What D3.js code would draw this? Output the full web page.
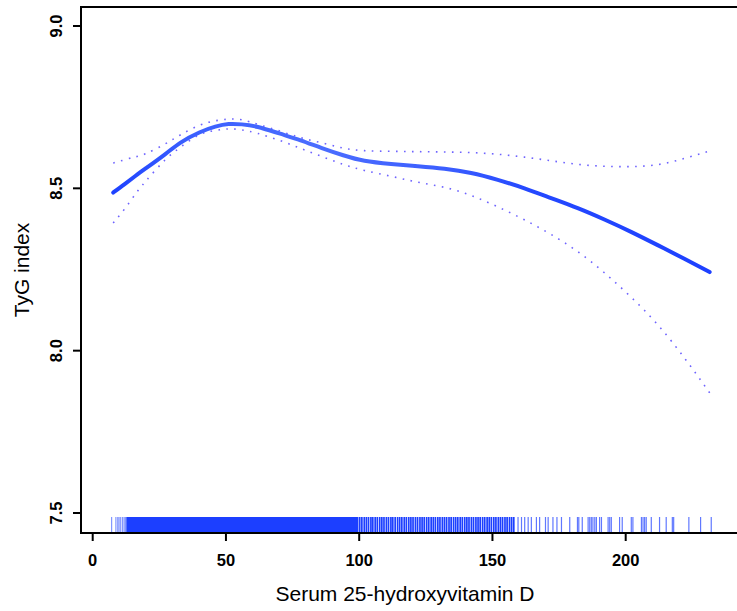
<!DOCTYPE html>
<html>
<head>
<meta charset="utf-8">
<script src="https://cdn.jsdelivr.net/npm/d3@7"></script>
<style>
  body { margin: 0; background: #fff; }
  svg { display: block; font-family: "Liberation Sans", Arial, sans-serif; }
</style>
</head>
<body>
<svg id="chart" width="737" height="611"></svg>
<script>
// ===================================
// Data
// ===================================

// vitamin D grid where the spline was evaluated
const vitD = [7.7, 12, 16, 20, 27, 33, 40, 46, 51, 56, 62, 70, 78, 86, 94, 102, 112, 122, 132, 142, 152, 162, 172, 182, 192, 202, 212, 222, 231.5];
// fitted TyG index
const fitTyG = [8.487, 8.513, 8.538, 8.562, 8.604, 8.641, 8.672, 8.690, 8.698, 8.697, 8.689, 8.669, 8.648, 8.624, 8.602, 8.585, 8.575, 8.568, 8.560, 8.547, 8.526, 8.500, 8.470, 8.439, 8.404, 8.366, 8.325, 8.283, 8.242];
// 95% confidence band
const upperTyG = [8.578, 8.588, 8.597, 8.607, 8.636, 8.665, 8.694, 8.708, 8.713, 8.711, 8.697, 8.677, 8.656, 8.640, 8.624, 8.616, 8.614, 8.613, 8.612, 8.610, 8.605, 8.596, 8.585, 8.574, 8.568, 8.567, 8.573, 8.592, 8.615];
const lowerTyG = [8.393, 8.437, 8.482, 8.523, 8.586, 8.627, 8.665, 8.678, 8.683, 8.680, 8.669, 8.648, 8.623, 8.598, 8.574, 8.555, 8.537, 8.519, 8.503, 8.478, 8.443, 8.403, 8.358, 8.305, 8.240, 8.165, 8.080, 7.978, 7.870];

// rug of observed values: the bulk is a solid band, the rest individual ticks
const rugDenseSpan = [12.6, 99.7];
const rugLow = [7.1, 8.7, 9.4, 9.9, 10.5, 11.2, 11.8, 12.3];
const rugMid = [100.2, 101.0, 101.9, 102.7, 103.5, 104.4, 105.1, 106.0, 106.8, 107.7, 108.5, 109.3, 110.2, 111.0, 111.9, 112.6, 113.5, 114.4, 115.2, 116.0, 116.9, 117.7, 118.6, 119.4, 120.2, 121.1, 121.9, 122.8, 123.6, 124.4, 125.3, 126.1, 127.0, 127.8, 128.6, 129.5, 130.3, 131.2, 132.0, 132.8, 133.7, 134.5, 135.4, 136.2, 137.0, 137.9, 138.7, 139.6, 140.4, 141.2, 142.1, 142.9, 143.8, 144.6, 145.4, 146.3, 147.1, 148.0, 148.8, 149.6, 150.5, 151.3, 152.2, 153.0, 153.8, 154.7, 155.5, 156.4, 157.2, 158.0];
const rugHigh = [159.6, 160.9, 162.1, 163.4, 164.6, 166.5, 167.7, 169.9, 170.9, 172.7, 174.2, 175.9, 179.0, 181.9, 182.4, 183.7, 185.9, 186.5, 187.1, 187.7, 188.4, 189.0, 190.2, 190.9, 193.4, 194.0, 194.6, 197.7, 198.7, 202.1, 202.7, 205.9, 206.5, 207.1, 207.7, 209.6, 212.7, 215.2, 217.5, 218.0, 223.7, 228.1, 232.1];

const xTicks = [0, 50, 100, 150, 200];
const yTicks = [7.5, 8.0, 8.5, 9.0];

// ===================================
// Layout
// ===================================

const box = { left: 81, right: 737, top: 7, bottom: 533 };
const x = d3.scaleLinear().domain([0, 200]).range([92.7, 625.7]);
const y = d3.scaleLinear().domain([7.5, 9.0]).range([513, 26]);
const rugTop = 517;

const svg = d3.select('#chart');

// gradient so the fitted line is paler in the middle like the original
const grad = svg.append('defs').append('linearGradient')
    .attr('id', 'fitGrad')
    .attr('gradientUnits', 'userSpaceOnUse')
    .attr('x1', x(vitD[0])).attr('x2', x(vitD[vitD.length - 1]))
    .attr('y1', 0).attr('y2', 0);
[[0, '#1e42ff'], [0.12, '#3a5fff'], [0.35, '#4b6dff'], [0.55, '#3c5fff'], [0.7, '#2448ff'], [1, '#1d40ff']]
    .forEach(([o, c]) => grad.append('stop').attr('offset', o).attr('stop-color', c));

// ===================================
// Rug
// ===================================

svg.append('rect')
    .attr('x', x(rugDenseSpan[0]))
    .attr('y', rugTop)
    .attr('width', x(rugDenseSpan[1]) - x(rugDenseSpan[0]))
    .attr('height', box.bottom - rugTop)
    .attr('fill', '#1c3fff');

const rugTicks = rugLow.map(v => ({ v, o: 0.55, w: 1.2 }))
    .concat(rugMid.map(v => ({ v, o: 1, w: 1.7 })))
    .concat(rugHigh.map(v => ({ v, o: 0.7, w: 1.2 })));

svg.append('g').selectAll('line')
    .data(rugTicks)
    .join('line')
    .attr('x1', d => x(d.v)).attr('x2', d => x(d.v))
    .attr('y1', rugTop).attr('y2', box.bottom)
    .attr('stroke', '#1c3fff')
    .attr('stroke-opacity', d => d.o)
    .attr('stroke-width', d => d.w);

// ===================================
// Curves
// ===================================

const line = vals => d3.line()
    .x((d, i) => x(vitD[i]))
    .y(d => y(d))
    .curve(d3.curveNatural)(vals);

[upperTyG, lowerTyG].forEach(band => {
    svg.append('path')
        .attr('d', line(band))
        .attr('fill', 'none')
        .attr('stroke', '#4a3cff')
        .attr('stroke-opacity', 0.8)
        .attr('stroke-width', 1.6)
        .attr('stroke-dasharray', '1.6,6.4');
});

svg.append('path')
    .attr('d', line(fitTyG))
    .attr('fill', 'none')
    .attr('stroke', 'url(#fitGrad)')
    .attr('stroke-width', 4)
    .attr('stroke-linecap', 'round');

// ===================================
// Frame and axes
// ===================================

const frame = svg.append('g').attr('stroke', '#000').attr('stroke-width', 2).attr('fill', 'none');
frame.append('path')
    .attr('d', `M${box.right},${box.top}H${box.left}V${box.bottom}H${box.right}`);

frame.selectAll('.xt')
    .data(xTicks)
    .join('line')
    .attr('x1', d => x(d)).attr('x2', d => x(d))
    .attr('y1', box.bottom).attr('y2', box.bottom + 8);

frame.selectAll('.yt')
    .data(yTicks)
    .join('line')
    .attr('x1', box.left - 8).attr('x2', box.left)
    .attr('y1', d => y(d)).attr('y2', d => y(d));

svg.append('g').selectAll('text')
    .data(xTicks)
    .join('text')
    .attr('x', d => x(d))
    .attr('y', 566)
    .attr('text-anchor', 'middle')
    .attr('font-size', 16.5)
    .attr('font-weight', 'bold')
    .text(d => d);

svg.append('g').selectAll('text')
    .data(yTicks)
    .join('text')
    .attr('transform', d => `translate(62,${y(d)}) rotate(-90)`)
    .attr('text-anchor', 'middle')
    .attr('font-size', 16.5)
    .attr('font-weight', 'bold')
    .text(d => d.toFixed(1));

svg.append('text')
    .attr('x', 405)
    .attr('y', 601)
    .attr('text-anchor', 'middle')
    .attr('font-size', 21)
    .text('Serum 25-hydroxyvitamin D');

svg.append('text')
    .attr('transform', `translate(29,${(box.top + box.bottom) / 2}) rotate(-90)`)
    .attr('text-anchor', 'middle')
    .attr('font-size', 21)
    .text('TyG index');
</script>
</body>
</html>
